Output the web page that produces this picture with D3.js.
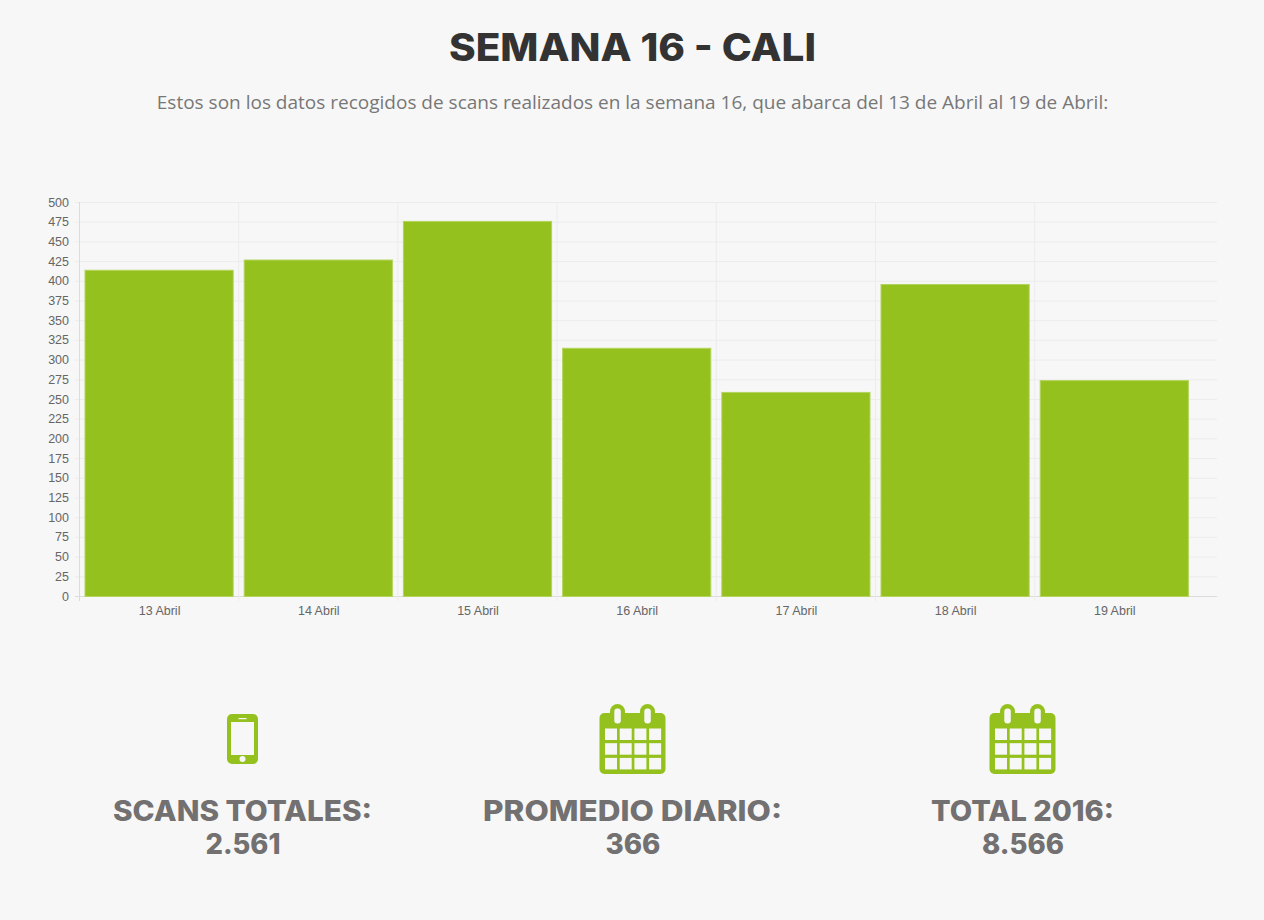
<!DOCTYPE html>
<html>
<head>
<meta charset="utf-8">
<title>Semana 16 - Cali</title>
<script src="https://cdn.jsdelivr.net/npm/d3@7"></script>
<style>
  html, body { margin: 0; padding: 0; background: #f7f7f7; }
  svg { display: block; }
  .title { font-family: Inter, sans-serif; font-weight: 800; fill: #333333; }
  .sub { font-family: "Open Sans", sans-serif; fill: #777777; }
  .stat { font-family: Inter, sans-serif; font-weight: 800; fill: #727070; }
  .tick-label { font-family: "Liberation Sans", Arial, sans-serif; font-size: 12.5px; fill: #666666; }
</style>
</head>
<body>
<svg id="chart" width="1264" height="920"></svg>
<script>
// values
var categories = ['13 Abril', '14 Abril', '15 Abril', '16 Abril', '17 Abril', '18 Abril', '19 Abril'];
var scans = [414, 427, 476, 315, 259, 396, 274];
var yTicks = d3.range(0, 501, 25);
var statLabels = ['SCANS TOTALES:', 'PROMEDIO DIARIO:', 'TOTAL 2016:'];
var statValues = ['2.561', '366', '8.566'];
var statCenters = [243, 633, 1023];
var statIcons = ['phone', 'calendar', 'calendar'];
// Inter is narrower than the original face, so the label widths are forced
var statLabelWidths = [259, 299, 183];
var statValueWidths = [75, 55, 82];

var GREEN = '#95c11f', GRID = '#ececec', BG = '#f7f7f7';
var svg = d3.select('#chart');

svg.append('text').attr('class', 'title').attr('x', 632.5).attr('y', 61)
  .attr('text-anchor', 'middle').style('font-size', '38px')
  .attr('textLength', 367).attr('lengthAdjust', 'spacingAndGlyphs')
  .text('SEMANA 16 - CALI');
svg.append('text').attr('class', 'sub').attr('x', 632.5).attr('y', 109)
  .attr('text-anchor', 'middle').style('font-size', '19px')
  .text('Estos son los datos recogidos de scans realizados en la semana 16, que abarca del 13 de Abril al 19 de Abril:');

var x = d3.scaleBand().domain(categories).range([79.5, 1193.9]);
var y = d3.scaleLinear().domain([0, 500]).range([596.5, 202.5]);
var chart = svg.append('g');

// grid
chart.selectAll('.hgrid').data(yTicks).enter().append('line')
  .attr('x1', 75).attr('x2', 1217)
  .attr('y1', function(d) { return y(d); }).attr('y2', function(d) { return y(d); })
  .attr('stroke', function(d) { return d === 0 ? '#dcdcdc' : GRID; });
chart.selectAll('.vgrid').data(categories).enter().append('line')
  .attr('x1', function(d) { return x(d); })
  .attr('x2', function(d) { return x(d); })
  .attr('y1', 202).attr('y2', 601)
  .attr('stroke', function(d, i) { return i === 0 ? '#dcdcdc' : GRID; });

// bars
chart.selectAll('.bar').data(scans).enter().append('rect')
  .attr('x', function(d, i) { return x(categories[i]) + 5.5; })
  .attr('width', x.bandwidth() - 11)
  .attr('y', function(d) { return y(d); })
  .attr('height', function(d) { return y(0) - y(d); })
  .attr('fill', GREEN)
  .attr('stroke', '#b4d45c').attr('stroke-width', 1);

// tick labels
chart.selectAll('.ylab').data(yTicks).enter().append('text')
  .attr('class', 'tick-label').attr('x', 69).attr('text-anchor', 'end')
  .attr('y', function(d) { return y(d) + 4; })
  .text(function(d) { return d; });
chart.selectAll('.xlab').data(categories).enter().append('text')
  .attr('class', 'tick-label').attr('text-anchor', 'middle')
  .attr('x', function(d) { return x(d) + x.bandwidth() / 2 + 0.5; })
  .attr('y', 615)
  .text(function(d) { return d; });

function drawPhone(g) {
  g.append('rect').attr('x', -16).attr('y', 714).attr('width', 31).attr('height', 50).attr('rx', 5).attr('fill', GREEN);
  g.append('rect').attr('x', -12).attr('y', 722).attr('width', 23).attr('height', 33).attr('fill', BG);
  g.append('circle').attr('cx', -0.5).attr('cy', 759).attr('r', 3).attr('fill', BG);
  g.append('rect').attr('x', -4.5).attr('y', 718).attr('width', 8).attr('height', 1.2).attr('fill', BG);
}

function drawCalendar(g) {
  g.append('rect').attr('x', -33.5).attr('y', 713).attr('width', 66).attr('height', 61).attr('rx', 5).attr('fill', GREEN);
  [-15, 15].forEach(function(dx) {
    g.append('rect').attr('x', dx - 8).attr('y', 704).attr('width', 15).attr('height', 23).attr('rx', 7.5).attr('fill', GREEN);
    g.append('rect').attr('x', dx - 3.7).attr('y', 708.5).attr('width', 6.5).attr('height', 15).attr('rx', 3).attr('fill', BG);
  });
  d3.range(3).forEach(function(r) {
    d3.range(4).forEach(function(c) {
      g.append('rect').attr('x', -28 + c * 14.7).attr('y', 728.5 + r * 14.7)
        .attr('width', 12).attr('height', 11.5).attr('fill', BG);
    });
  });
}

statLabels.forEach(function(label, i) {
  var g = svg.append('g').attr('transform', 'translate(' + statCenters[i] + ',0)');
  if (statIcons[i] === 'phone') drawPhone(g); else drawCalendar(g);
  g.append('text').attr('class', 'stat').attr('text-anchor', 'middle').attr('x', -0.5).attr('y', 821)
    .style('font-size', '28px')
    .attr('textLength', statLabelWidths[i]).attr('lengthAdjust', 'spacingAndGlyphs')
    .text(label);
  g.append('text').attr('class', 'stat').attr('text-anchor', 'middle').attr('y', 854)
    .style('font-size', '28px')
    .attr('textLength', statValueWidths[i]).attr('lengthAdjust', 'spacingAndGlyphs')
    .text(statValues[i]);
});
</script>
</body>
</html>
